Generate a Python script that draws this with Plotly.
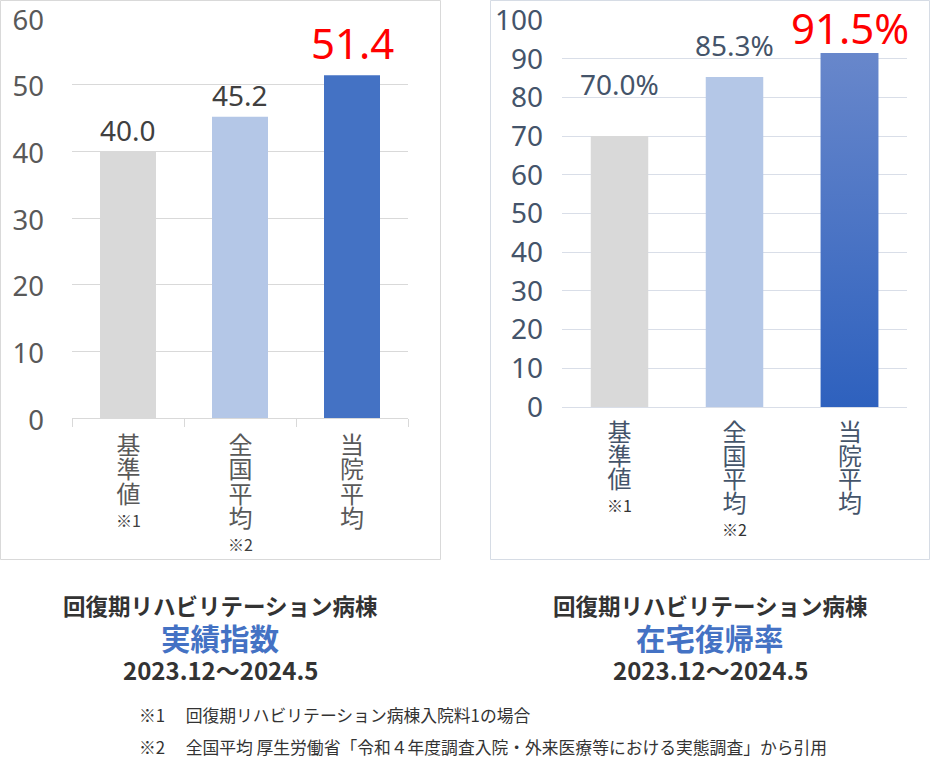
import plotly.graph_objects as go

# ---------------- data ----------------
categories = ["基準値", "全国平均", "当院平均"]
category_notes = ["※1", "※2", ""]
index_values = [40.0, 45.2, 51.4]          # 実績指数
home_return_values = [70.0, 85.3, 91.5]    # 在宅復帰率 (%)
index_ticks = [0, 10, 20, 30, 40, 50, 60]
home_ticks = [0, 10, 20, 30, 40, 50, 60, 70, 80, 90, 100]

title_common = "回復期リハビリテーション病棟"
left_title = "実績指数"
right_title = "在宅復帰率"
period = "2023.12〜2024.5"
footnotes = [
    "※1　 回復期リハビリテーション病棟入院料1の場合",
    "※2　 全国平均 厚生労働省「令和４年度調査入院・外来医療等における実態調査」から引用",
]

# ---------------- styles ----------------
W, H = 931, 764
FONT = "Noto Sans, Noto Sans CJK JP, sans-serif"
CJK = "Noto Sans CJK JP, sans-serif"
left_colors = ["#d9d9d9", "#b4c7e7", "#4472c4"]
right_colors = ["#d9d9d9", "#b4c7e7", "#4a74c6"]
BAR_W = 0.5


def px_x(x):
    return x / W


def px_y(y):
    return 1 - y / H


fig = go.Figure()
xs = list(range(len(categories)))

# left chart
fig.add_trace(go.Bar(x=xs, y=index_values, width=BAR_W, marker=dict(color=left_colors, line=dict(width=0)),
                     xaxis="x", yaxis="y", hoverinfo="skip", showlegend=False))
# right chart
fig.add_trace(go.Bar(x=xs, y=home_return_values, width=BAR_W, marker=dict(color=right_colors, line=dict(width=0)),
                     xaxis="x2", yaxis="y2", hoverinfo="skip", showlegend=False))
# gradient overlay for the last bar of the right chart (derived from its value)
i = len(categories) - 1
v = home_return_values[i]
fig.add_trace(go.Scatter(
    x=[i - BAR_W / 2, i + BAR_W / 2, i + BAR_W / 2, i - BAR_W / 2, i - BAR_W / 2],
    y=[0, 0, v, v, 0], mode="lines", line=dict(width=0), fill="toself",
    fillgradient=dict(type="vertical", colorscale=[[0, "#2e61be"], [1, "#6887cb"]]),
    xaxis="x2", yaxis="y2", hoverinfo="skip", showlegend=False))

fig.update_layout(
    template="none",
    width=W, height=H, margin=dict(l=0, r=0, t=0, b=0, pad=0), autosize=False,
    paper_bgcolor="white", plot_bgcolor="white", showlegend=False,
    xaxis=dict(domain=[px_x(72), px_x(408)], range=[-0.5, 2.5], showgrid=False, zeroline=False,
               showline=True, linecolor="#d9d9d9", linewidth=1, automargin=False,
               tickmode="array", tickvals=[-0.5, 0.5, 1.5, 2.5], ticks="outside", ticklen=8,
               tickcolor="#d9d9d9", showticklabels=False, fixedrange=True),
    yaxis=dict(domain=[px_y(418), px_y(18)], range=[0, 60], tickvals=index_ticks, automargin=False,
               showgrid=True, gridcolor="#d9d9d9", gridwidth=1, zeroline=False, showline=False,
               ticks="", ticklabelstandoff=27, ticklabeloverflow="allow", ticklabelshift=2,
               tickfont=dict(family=FONT, size=27.5, color="#595959"), fixedrange=True),
    xaxis2=dict(domain=[px_x(562), px_x(907)], range=[-0.5, 2.5], showgrid=False, zeroline=False,
                showline=True, linecolor="#d9dee8", linewidth=1, showticklabels=False, ticks="",
                anchor="y2", automargin=False, fixedrange=True),
    yaxis2=dict(domain=[px_y(407), px_y(20)], range=[0, 100], tickvals=home_ticks, automargin=False,
                showgrid=True, gridcolor="#d9dee8", gridwidth=1, zeroline=False, showline=False,
                ticks="", ticklabelstandoff=18, anchor="x2", ticklabeloverflow="allow",
                tickfont=dict(family=FONT, size=28, color="#44546a"), fixedrange=True),
)

ann = []
# value labels
left_label_style = [("#404040", 28, 1), ("#404040", 28, 2), ("#ff0000", 42, 3)]
for x, val, (col, sz, sh) in zip(xs, index_values, left_label_style):
    ann.append(dict(x=x, y=val, xref="x", yref="y", text=f"{val:.1f}", showarrow=False,
                    xanchor="center", yanchor="bottom", yshift=sh, borderpad=0,
                    font=dict(family=FONT, size=sz, color=col)))
right_label_style = [("#44546a", 28, 32), ("#44546a", 28, 12), ("#ff0000", 42, -4)]
for x, val, (col, sz, sh) in zip(xs, home_return_values, right_label_style):
    ann.append(dict(x=x, y=val, xref="x2", yref="y2", text=f"{val:.1f}%", showarrow=False,
                    xanchor="center", yanchor="bottom", yshift=sh, borderpad=0,
                    font=dict(family=FONT, size=sz, color=col)))

# vertical category labels (one character per line, line pitch from base font size)
for axis, top, base, col, ncol in [("x", 424, 18.7, "#595959", "#404040"),
                                    ("x2", 411, 18.2, "#44546a", "#333333")]:
    for x, cat, note in zip(xs, categories, category_notes):
        lines = [f'<span style="font-size:24px">{ch}</span>' for ch in cat]
        if note:
            lines.append(f'<span style="font-size:16px;color:{ncol}">{note}</span>')
        ann.append(dict(x=x, y=px_y(top), xref=axis, yref="paper", text="<br>".join(lines),
                        showarrow=False, xanchor="center", yanchor="top", align="center",
                        font=dict(family=CJK, size=base, color=col)))

# titles under panels
for cx, t2 in [(220, left_title), (710, right_title)]:
    ann.append(dict(x=px_x(cx), y=px_y(605), xref="paper", yref="paper", text=f"<b>{title_common}</b>",
                    showarrow=False, xanchor="center", yanchor="middle",
                    font=dict(family=CJK, size=22.5, color="#333333")))
    ann.append(dict(x=px_x(cx), y=px_y(637), xref="paper", yref="paper", text=f"<b>{t2}</b>",
                    showarrow=False, xanchor="center", yanchor="middle",
                    font=dict(family=CJK, size=29.5, color="#4472c4")))
    ann.append(dict(x=px_x(cx), y=px_y(669), xref="paper", yref="paper", text=f"<b>{period}</b>",
                    showarrow=False, xanchor="center", yanchor="middle",
                    font=dict(family=CJK, size=24, color="#333333")))

for k, note in enumerate(footnotes):
    ann.append(dict(x=px_x(137), y=px_y(715 + 32 * k), xref="paper", yref="paper", text=note,
                    showarrow=False, xanchor="left", yanchor="middle",
                    font=dict(family=CJK, size=16.8, color="#333333")))

fig.update_layout(annotations=ann)

# panel borders
fig.add_shape(type="rect", xref="paper", yref="paper", x0=px_x(0.5), x1=px_x(440.5), y0=px_y(559.5), y1=px_y(0.5),
              line=dict(color="#d9d9d9", width=1), layer="below")
fig.add_shape(type="rect", xref="paper", yref="paper", x0=px_x(490.5), x1=px_x(929.5), y0=px_y(559.5), y1=px_y(0.5),
              line=dict(color="#d6dce5", width=1), layer="below")

fig.write_html("out.html", config={"displayModeBar": False},
               post_script="document.body.style.margin='0px';")
